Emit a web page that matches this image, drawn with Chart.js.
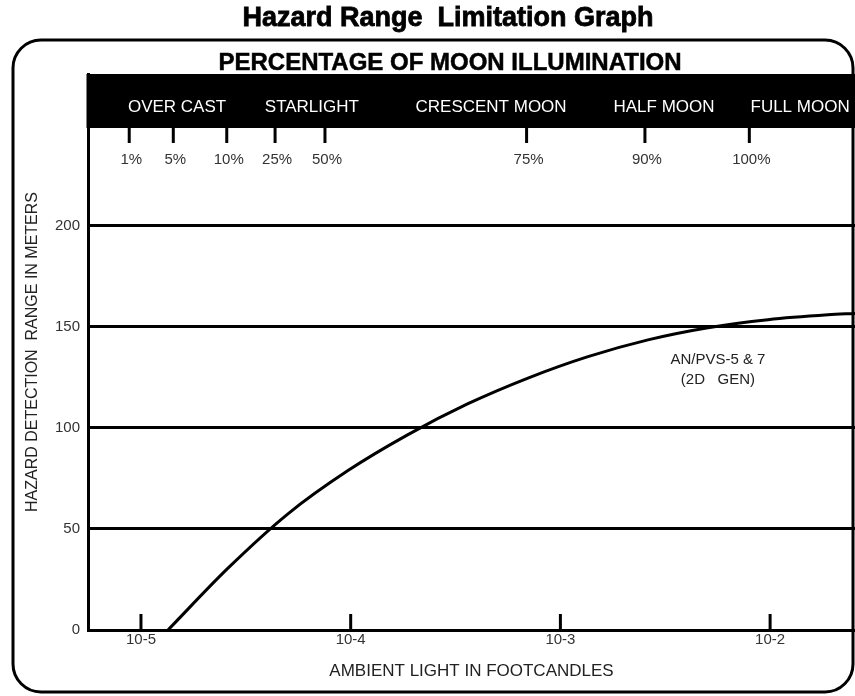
<!DOCTYPE html>
<html>
<head>
<meta charset="utf-8">
<script src="https://cdn.jsdelivr.net/npm/chart.js@4/dist/chart.umd.min.js"></script>
<style>
  html, body { margin: 0; padding: 0; background: #fff; }
  canvas { display: block; }
</style>
</head>
<body>
<canvas id="c" width="855" height="696"></canvas>
<script>
// ---- data ----
const footcandles = [1.345e-5, 2.600e-5, 5.023e-5, 9.707e-5, 1.876e-4, 3.626e-4, 7.007e-4, 1.354e-3, 2.616e-3, 5.055e-3, 9.772e-3, 1.888e-2, 2.54e-2];
const detectionRange = [0, 30.6, 57.5, 78.9, 96.7, 112.0, 124.7, 135.3, 143.6, 149.6, 153.6, 156.0, 156.7];
const xTickValues = [1e-5, 1e-4, 1e-3, 1e-2];
const xTickLabels = ['10-5', '10-4', '10-3', '10-2'];
const yTickValues = [0, 50, 100, 150, 200];
const illuminationLabels = ['1%', '5%', '10%', '25%', '50%', '75%', '90%', '100%'];
const illuminationAt = [8.79e-6, 1.426e-5, 2.565e-5, 4.36e-5, 7.54e-5, 6.90e-4, 2.53e-3, 7.96e-3];
const conditionLabels = ['OVER CAST', 'STARLIGHT', 'CRESCENT MOON', 'HALF MOON', 'FULL MOON'];
const conditionAt = [1.486e-5, 6.53e-5, 4.67e-4, 3.12e-3, 1.39e-2];
const seriesNameLines = ['AN/PVS-5 & 7', '(2D   GEN)'];
const seriesNameAtX = 5.64e-3;
const seriesNameAtY = [133.7, 123.8];
const mainTitle = 'Hazard Range  Limitation Graph';
const subTitle = 'PERCENTAGE OF MOON ILLUMINATION';
const xTitle = 'AMBIENT LIGHT IN FOOTCANDLES';
const yTitle = 'HAZARD DETECTION  RANGE IN METERS';

const FONT = '"Liberation Sans", Arial, Helvetica, sans-serif';

const decor = {
  id: 'decor',
  beforeDraw(chart) {
    const ctx = chart.ctx;
    ctx.save();
    ctx.fillStyle = '#fff';
    ctx.fillRect(0, 0, chart.width, chart.height);
    // outer rounded frame
    ctx.strokeStyle = '#000';
    ctx.lineWidth = 3;
    ctx.beginPath();
    ctx.roundRect(13, 40, 840, 652, 28);
    ctx.stroke();
    // main title
    ctx.fillStyle = '#000';
    ctx.textAlign = 'center';
    ctx.textBaseline = 'middle';
    ctx.font = 'bold 27px ' + FONT;
    ctx.lineWidth = 0.8;
    ctx.fillText(mainTitle, 448, 19);
    ctx.strokeText(mainTitle, 448, 19);
    ctx.font = 'bold 24px ' + FONT;
    ctx.lineWidth = 0.5;
    ctx.fillText(subTitle, 450, 63);
    ctx.strokeText(subTitle, 450, 63);
    ctx.restore();
  },
  afterDraw(chart) {
    const ctx = chart.ctx;
    const ca = chart.chartArea;
    const xs = chart.scales.x;
    ctx.save();
    // black band
    const bandTop = ca.top, bandBottom = ca.top + 54;
    ctx.fillStyle = '#000';
    ctx.fillRect(ca.left - 1.5, bandTop, ca.right - ca.left + 1.5, bandBottom - bandTop);
    ctx.fillStyle = '#fff';
    ctx.font = '17px ' + FONT;
    ctx.textAlign = 'center';
    ctx.textBaseline = 'middle';
    conditionLabels.forEach((t, i) => {
      ctx.fillText(t, xs.getPixelForValue(conditionAt[i]), bandTop + 33);
    });
    // illumination ticks & labels
    ctx.strokeStyle = '#000';
    ctx.lineWidth = 3;
    ctx.fillStyle = '#333';
    ctx.font = '15px ' + FONT;
    illuminationAt.forEach((v, i) => {
      const px = xs.getPixelForValue(v);
      ctx.beginPath();
      ctx.moveTo(px, bandBottom);
      ctx.lineTo(px, bandBottom + 15);
      ctx.stroke();
      ctx.fillText(illuminationLabels[i], px + 2, bandBottom + 32);
    });
    // inward x ticks
    xTickValues.forEach(v => {
      const px = xs.getPixelForValue(v);
      ctx.beginPath();
      ctx.moveTo(px, ca.bottom);
      ctx.lineTo(px, ca.bottom - 16);
      ctx.stroke();
    });
    // series label
    const ys = chart.scales.y;
    ctx.fillStyle = '#222';
    ctx.font = '15px ' + FONT;
    seriesNameLines.forEach((t, i) => {
      ctx.fillText(t, xs.getPixelForValue(seriesNameAtX), ys.getPixelForValue(seriesNameAtY[i]));
    });
    ctx.restore();
  }
};

new Chart(document.getElementById('c'), {
  type: 'line',
  data: {
    datasets: [{
      data: footcandles.map((x, i) => ({ x: x, y: detectionRange[i] })),
      borderColor: '#000',
      borderWidth: 3,
      pointRadius: 0,
      cubicInterpolationMode: 'monotone',
      fill: false
    }]
  },
  options: {
    responsive: false,
    animation: false,
    devicePixelRatio: 1,
    layout: { padding: { top: 74, left: 0, right: 0, bottom: 0 } },
    plugins: { legend: { display: false }, tooltip: { enabled: false } },
    scales: {
      x: {
        type: 'logarithmic',
        min: 5.59e-6,
        max: 0.0254,
        afterBuildTicks: s => { s.ticks = xTickValues.map(v => ({ value: v })); },
        afterFit: s => { s.height = 66; },
        ticks: {
          callback: (v, i) => xTickLabels[i],
          font: { family: FONT, size: 15 },
          color: '#333',
          padding: 1,
          autoSkip: false,
          maxRotation: 0
        },
        grid: { display: true, drawOnChartArea: false, drawTicks: false },
        border: { display: true, color: '#000', width: 3 },
        title: {
          display: true, text: xTitle, color: '#222',
          font: { family: FONT, size: 17 },
          padding: { top: 0, bottom: 14 }
        }
      },
      y: {
        min: 0,
        max: 275.2,
        afterBuildTicks: s => { s.ticks = yTickValues.map(v => ({ value: v })); },
        afterFit: s => { s.width = 88; },
        ticks: {
          font: { family: FONT, size: 15 },
          color: '#333',
          padding: 8
        },
        grid: { color: '#000', lineWidth: 3, drawTicks: false },
        border: { display: true, color: '#000', width: 3 },
        title: {
          display: true, text: yTitle, color: '#222',
          font: { family: FONT, size: 16 },
          padding: { top: 23, bottom: 0 }
        }
      }
    }
  },
  plugins: [decor]
});
</script>
</body>
</html>
